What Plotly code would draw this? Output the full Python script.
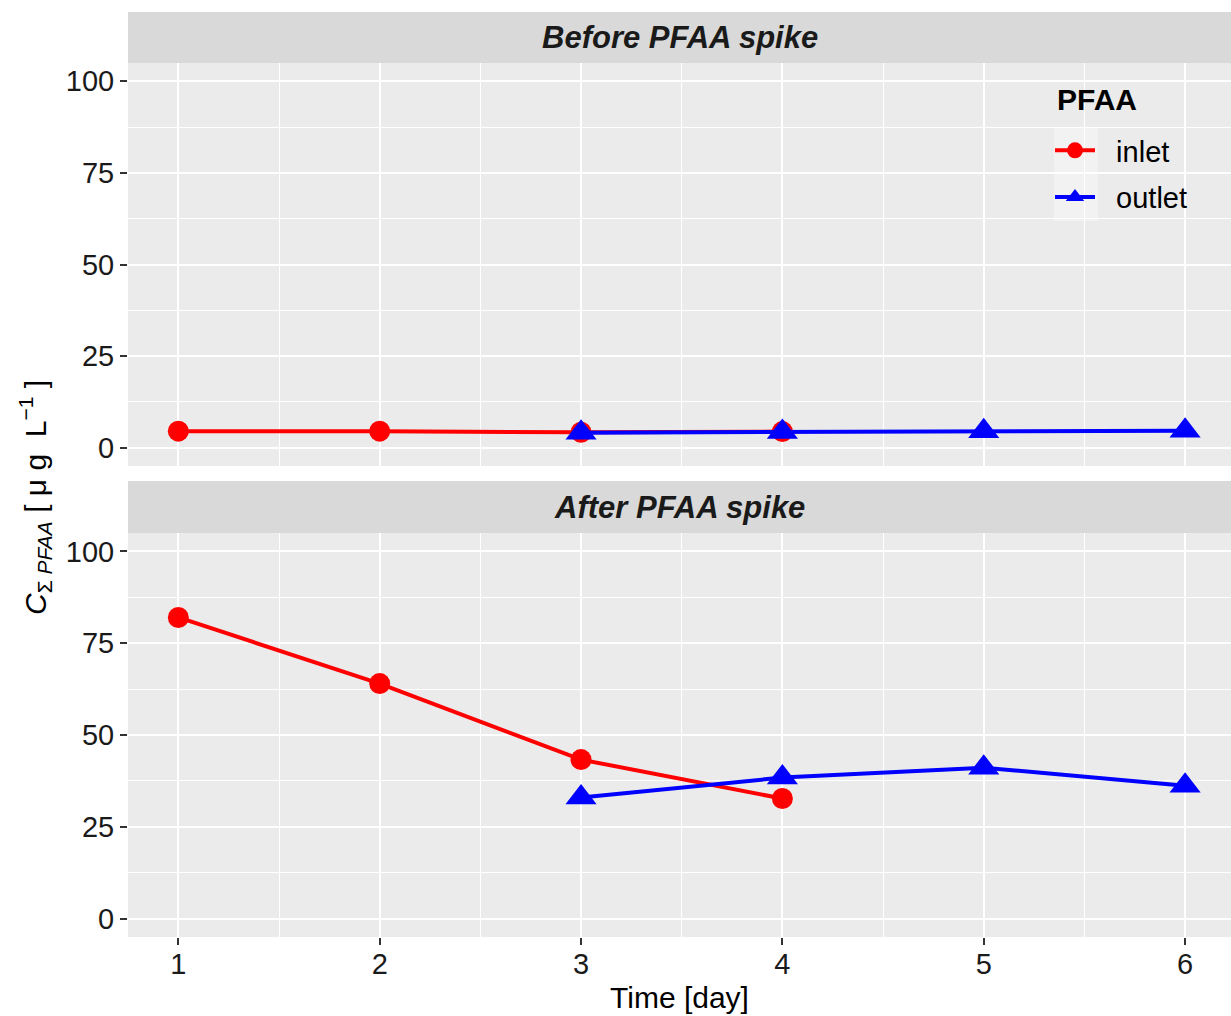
import plotly.graph_objects as go
from plotly.subplots import make_subplots

days_inlet = [1, 2, 3, 4]
days_outlet = [3, 4, 5, 6]
before_inlet = [4.5, 4.5, 4.2, 4.4]
before_outlet = [4.1, 4.3, 4.5, 4.6]
after_inlet = [82.0, 64.0, 43.3, 32.7]
after_outlet = [33.0, 38.4, 41.1, 36.2]
panel_titles = ["Before PFAA spike", "After PFAA spike"]
y_ticks = [0, 25, 50, 75, 100]
x_ticks = [1, 2, 3, 4, 5, 6]

FONT = "Liberation Sans, Arial, sans-serif"
RED = "#ff0000"
BLUE = "#0000ff"

W, H = 1231, 1016
ML, MR, MT, MB = 128, 0, 12, 79
PW = W - ML - MR
PH = H - MT - MB


def py(p):
    return (H - MB - p) / PH


def px(p):
    return (p - ML) / PW


fig = make_subplots(rows=2, cols=1, shared_xaxes=True, vertical_spacing=0.05)

panels = [(before_inlet, before_outlet), (after_inlet, after_outlet)]
for r, (inl, outl) in enumerate(panels, start=1):
    fig.add_trace(go.Scatter(x=days_inlet, y=inl, mode="lines+markers", name="  inlet",
                             legendgroup="inlet", showlegend=(r == 1),
                             line=dict(color=RED, width=4),
                             marker=dict(symbol="circle", size=21, color=RED)), row=r, col=1)
    fig.add_trace(go.Scatter(x=days_outlet, y=outl, mode="lines+markers", name="  outlet",
                             legendgroup="outlet", showlegend=(r == 1),
                             line=dict(color=BLUE, width=4),
                             marker=dict(symbol="triangle-up", size=27, color=BLUE)), row=r, col=1)

domains = [(py(466), py(63)), (py(937), py(533))]
strips = [(py(63), py(12)), (py(533), py(481))]

axis_common = dict(showline=False, zeroline=False, gridcolor="white", gridwidth=2,
                   tickfont=dict(family=FONT, size=29, color="#1a1a1a"),
                   ticks="outside", ticklen=7, tickwidth=1.5, tickcolor="#333333",
                   automargin=False)

for i, dom in enumerate(domains):
    ysuf = "" if i == 0 else str(i + 1)
    fig.layout["yaxis" + ysuf].update(
        domain=list(dom), range=[-5, 105], tickvals=y_ticks,
        minor=dict(showgrid=True, gridcolor="white", gridwidth=1, tick0=12.5, dtick=25),
        **axis_common)
    fig.layout["xaxis" + ysuf].update(
        range=[0.75, 6.228], tickvals=x_ticks,
        minor=dict(showgrid=True, gridcolor="white", gridwidth=1, tick0=0.5, dtick=1),
        **axis_common)

fig.layout.xaxis.update(showticklabels=False, ticks="")
fig.layout.xaxis2.update(ticklabelstandoff=-6,
                         title=dict(text="Time [day]", font=dict(family=FONT, size=30, color="black"),
                                    standoff=8))

shapes = []
annotations = []
for (y0, y1), title in zip(strips, panel_titles):
    shapes.append(dict(type="rect", xref="paper", yref="paper", x0=0, x1=1, y0=y0, y1=y1,
                       fillcolor="#d9d9d9", line=dict(width=0), layer="below"))
    annotations.append(dict(xref="paper", yref="paper", x=0.5, y=(y0 + y1) / 2,
                            text="<b><i>" + title + "</i></b>", showarrow=False,
                            font=dict(family=FONT, size=31, color="#1a1a1a"),
                            xanchor="center", yanchor="middle"))

# legend key backgrounds
shapes.append(dict(type="rect", xref="paper", yref="paper", x0=px(1054), x1=px(1098),
                   y0=py(221), y1=py(128), fillcolor="#f2f2f2", line=dict(width=0), layer="below"))

# legend title
annotations.append(dict(xref="paper", yref="paper", x=px(1055), y=py(99),
                        text="<b>PFAA</b>", showarrow=False,
                        font=dict(family=FONT, size=30, color="black"),
                        xanchor="left", yanchor="middle"))

annotations.append(dict(xref="paper", yref="paper", x=px(35), y=py(498),
                        text="<i>C</i><sub>Σ <i>PFAA</i></sub> [ μ g  L<sup>−1</sup> ]",
                        showarrow=False, textangle=-90,
                        font=dict(family=FONT, size=30, color="black"),
                        xanchor="center", yanchor="middle"))

fig.update_layout(
    width=W, height=H,
    margin=dict(l=ML, r=MR, t=MT, b=MB, autoexpand=False),
    paper_bgcolor="white", plot_bgcolor="#ebebeb",
    shapes=shapes, annotations=annotations,
    font=dict(family=FONT),
    legend=dict(x=px(1050), y=py(125), xanchor="left", yanchor="top",
                bgcolor="rgba(0,0,0,0)",
                font=dict(family=FONT, size=29, color="black"),
                itemwidth=40, tracegroupgap=6),
)

fig.write_html("out.html", config={"displayModeBar": False},
               post_script="document.body.style.margin='0';document.body.style.overflow='hidden';")
